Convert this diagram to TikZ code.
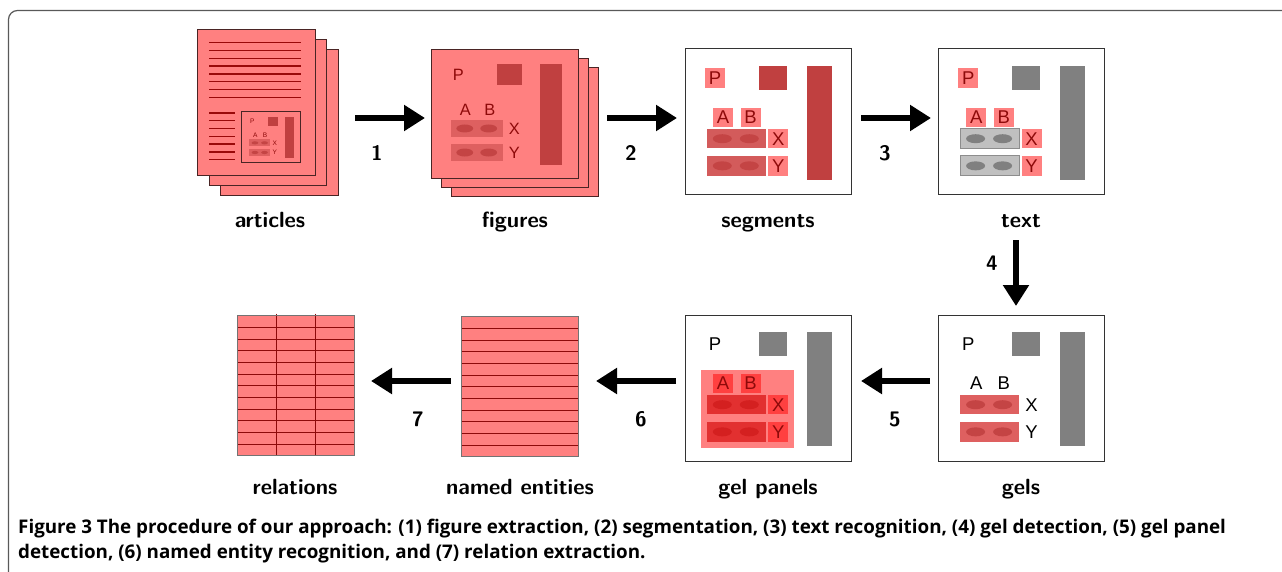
\documentclass[tikz,border=0pt]{standalone}
\usepackage{fontspec}
\newfontfamily\panelfont{Liberation Sans}
\newfontfamily\capfont{Open Sans}
\usetikzlibrary{arrows.meta}

\definecolor{pagered}{HTML}{FF8080}
\definecolor{blobred}{HTML}{C04040}
\definecolor{gelred}{HTML}{DE6060}
\definecolor{spotred}{HTML}{C44444}
\definecolor{inkred}{HTML}{8E0A0A}
\definecolor{sheetline}{HTML}{4A2424}
\definecolor{midgray}{HTML}{808080}
\definecolor{gelgray}{HTML}{C0C0C0}
\definecolor{hotred}{HTML}{FF4040}
\definecolor{hotgel}{HTML}{E23030}
\definecolor{hotspot}{HTML}{D42020}

\tikzset{
  sheet/.style={fill=pagered, draw=sheetline, line width=0.8pt},
  textline/.style={draw=inkred!90!red, line width=1.4pt},
  panel frame/.style={draw=black!80, line width=1pt},
  panel back/.style={},
  blob/.style={fill=blobred},
  gel/.style={fill=gelred},
  spot/.style={fill=spotred},
  letter/.style={font=\panelfont\fontsize{18.5}{20}\selectfont, text=inkred,
    fill=pagered, minimum width=20pt, minimum height=19.5pt, inner sep=0pt},
  pletter/.style={letter},
  flow/.style={line width=6.5pt, -{Triangle[length=21pt,width=25pt]}},
  steplabel/.style={font=\sffamily\bfseries\fontsize{22}{24}\selectfont, anchor=base},
  stepnum/.style={font=\sffamily\bfseries\fontsize{21}{24}\selectfont, anchor=base},
  rowline/.style={draw=inkred, line width=1pt},
  tableedge/.style={draw=black!55, line width=1pt},
  caption/.style={font=\capfont\bfseries\fontsize{18.8}{22}\selectfont, anchor=base west, inner sep=0pt},
  % one figure panel, 166 x 146, origin at its top left corner
  pics/panel/.style={code={
    \path[panel frame] (0,0) rectangle (166,146);
    \path[panel back] (16,55) rectangle (109.3,132.7);
    \fill[blob] (74,16.7) rectangle (101.7,41);
    \fill[blob] (121.7,16.7) rectangle (146.7,131);
    \path[gel] (21.7,80) rectangle (80.7,99.3);
    \path[gel] (21.7,107) rectangle (80.7,126.7);
    \foreach \x in {37.3,64.3}
      \foreach \y in {89.7,116.85}
        \fill[spot] (\x,\y) ellipse (9.5 and 4.5);
    \node[pletter] (-p) at (30,29) {P};
    \node[letter] (-a) at (38,68.5) {A};
    \node[letter] (-b) at (65.5,68.5) {B};
    \node[letter] (-x) at (93.3,89.7) {X};
    \node[letter] (-y) at (93.3,117) {Y};
  }}
}

\begin{document}
\begin{tikzpicture}[x=1pt,y=-1pt]
  \useasboundingbox (0,0) rectangle (1282,572);
  \draw[black!65, line width=1.2pt, rounded corners=9pt] (8.5,620) |- (1320,10.5);

  % articles
  \foreach \d in {23.4,11.7}
    \path[sheet] (197.3+\d,29.3+\d*0.855) rectangle +(117.7,146.4);
  \begin{scope}[shift={(197.3,29.3)}]
    \path[sheet] (0,0) rectangle (117.7,146.4);
    \foreach \k in {0,...,7}
      \draw[textline] (11.7,{13.4+7.8*\k}) -- (103.7,{13.4+7.8*\k});
    \foreach \k in {9,...,15}
      \draw[textline] (11.7,{13.4+7.8*\k}) -- (37.7,{13.4+7.8*\k});
  \end{scope}
  \begin{scope}[shift={(241.7,111)}, scale=0.355, transform shape,
      panel frame/.style={draw=sheetline, line width=0.7pt},
      letter/.style={font=\panelfont\fontsize{18.5}{20}\selectfont, text=inkred, inner sep=0pt}]
    \pic (art) {panel};
  \end{scope}

  % figures
  \path[sheet] (451.7,67) rectangle +(147.1,129.4);
  \path[sheet] (441.7,58) rectangle +(147.1,129.4);
  \begin{scope}[shift={(431.7,49)}, scale=0.886, transform shape,
      panel frame/.style={sheet},
      letter/.style={font=\panelfont\fontsize{18.5}{20}\selectfont, text=inkred, inner sep=0pt}]
    \pic (fig) {panel};
  \end{scope}

  % segments
  \begin{scope}[shift={(685,49)}, gel/.style={fill=gelred!95!black}]
    \pic (seg) {panel};
  \end{scope}

  % text
  \begin{scope}[shift={(938.3,49)}, blob/.style={fill=midgray},
      gel/.style={fill=gelgray, draw=midgray!90, line width=1pt}, spot/.style={fill=midgray}]
    \pic (txt) {panel};
  \end{scope}

  % gels
  \begin{scope}[shift={(938.3,315)}, blob/.style={fill=midgray},
      letter/.style={font=\panelfont\fontsize{18.5}{20}\selectfont, text=black, inner sep=0pt}]
    \pic (gel) {panel};
  \end{scope}

  % gel panels
  \begin{scope}[shift={(685,315)}, blob/.style={fill=midgray},
      panel back/.style={fill=pagered},
      gel/.style={fill=hotgel}, spot/.style={fill=hotspot},
      letter/.style={font=\panelfont\fontsize{18.5}{20}\selectfont, text=inkred,
        fill=hotred, minimum width=20pt, minimum height=19.5pt, inner sep=0pt},
      pletter/.style={font=\panelfont\fontsize{18.5}{20}\selectfont, text=black, inner sep=0pt}]
    \pic (pan) {panel};
  \end{scope}

  % named entities
  \fill[pagered] (461,316.7) rectangle (578.3,456.7);
  \foreach \k in {1,...,11}
    \draw[rowline] (461,{316.7+11.67*\k}) -- (578.3,{316.7+11.67*\k});
  \draw[tableedge] (461,316.7) rectangle (578.3,456.7);

  % relations
  \fill[pagered] (237.3,315.7) rectangle (354.3,455.7);
  \foreach \k in {1,...,11}
    \draw[rowline] (237.3,{315.7+11.67*\k}) -- (354.3,{315.7+11.67*\k});
  \draw[rowline] (276,313.5) -- (276,455.7);
  \draw[rowline] (315.7,313.5) -- (315.7,455.7);
  \draw[tableedge] (237.3,315.7) rectangle (354.3,455.7);

  % labels
  \node[steplabel] (l-art) at (270,228) {articles};
  \node[steplabel] (l-fig) at (515,228) {figures};
  \node[steplabel] (l-seg) at (768,228) {segments};
  \node[steplabel] (l-txt) at (1021,228) {text};
  \node[steplabel] (l-rel) at (295,494) {relations};
  \node[steplabel] (l-ent) at (520,494) {named entities};
  \node[steplabel] (l-pan) at (768,494) {gel panels};
  \node[steplabel] (l-gel) at (1021,494) {gels};

  % arrows between the steps
  \coordinate (a1s) at (355,118);  \coordinate (a1e) at (425,118);
  \coordinate (a2s) at (607,118);  \coordinate (a2e) at (677,118);
  \coordinate (a3s) at (861,118);  \coordinate (a3e) at (931,118);
  \coordinate (a4s) at (1016,240); \coordinate (a4e) at (1016,306);
  \coordinate (a5s) at (930,381);  \coordinate (a5e) at (861,381);
  \coordinate (a6s) at (676,381);  \coordinate (a6e) at (596,381);
  \coordinate (a7s) at (451,381);  \coordinate (a7e) at (371,381);
  \foreach \i in {1,...,7}
    \draw[flow] (a\i s) -- (a\i e);

  \node[stepnum] (n1) at (377,160.5) {1};
  \node[stepnum] (n2) at (631,160.5) {2};
  \node[stepnum] (n3) at (885,160.5) {3};
  \node[stepnum] (n4) at (992,270.5) {4};
  \node[stepnum] (n5) at (895,426.5) {5};
  \node[stepnum] (n6) at (641,426.5) {6};
  \node[stepnum] (n7) at (418,426.5) {7};

  % caption
  \node[caption] (cap1) at (18,533) {Figure 3 The procedure of our approach: (1) figure extraction, (2) segmentation, (3) text recognition, (4) gel detection, (5) gel panel};
  \node[caption] (cap2) at (18,558) {detection, (6) named entity recognition, and (7) relation extraction.};
\end{tikzpicture}
\end{document}
